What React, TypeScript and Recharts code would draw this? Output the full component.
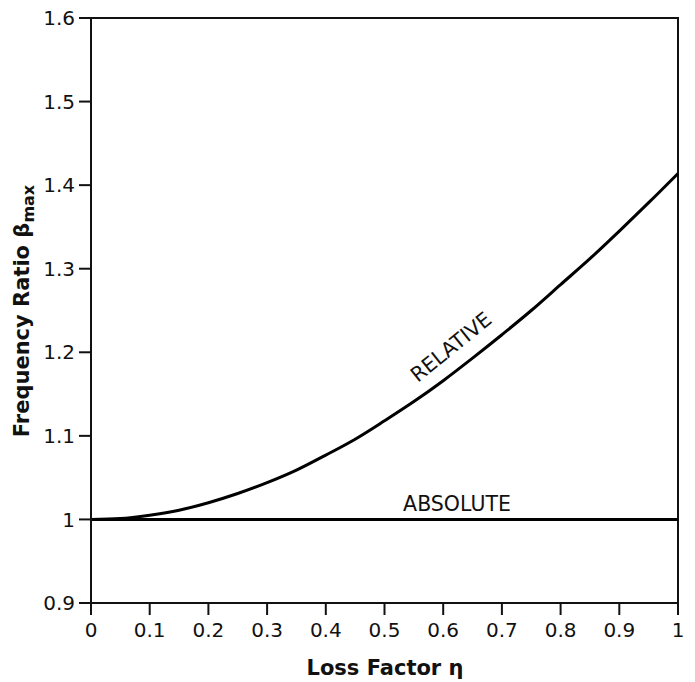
import { LineChart, Line, XAxis, YAxis, ReferenceArea, Customized } from 'recharts';

const lossFactor = [0, 0.05, 0.1, 0.15, 0.2, 0.25, 0.3, 0.35, 0.4, 0.45, 0.5, 0.55, 0.6, 0.65, 0.7, 0.75, 0.8, 0.85, 0.9, 0.95, 1];
const relative = [1.0, 1.001, 1.005, 1.011, 1.02, 1.031, 1.044, 1.059, 1.077, 1.096, 1.118, 1.141, 1.166, 1.193, 1.221, 1.25, 1.281, 1.312, 1.345, 1.379, 1.414];
const absolute = [1, 1, 1, 1, 1, 1, 1, 1, 1, 1, 1, 1, 1, 1, 1, 1, 1, 1, 1, 1, 1];

const xTicks = [0, 0.1, 0.2, 0.3, 0.4, 0.5, 0.6, 0.7, 0.8, 0.9, 1];
const yTicks = [0.9, 1.0, 1.1, 1.2, 1.3, 1.4, 1.5, 1.6];

const data = lossFactor.map((eta, i) => ({ eta, relative: relative[i], absolute: absolute[i] }));

const FONT = '"DejaVu Sans", Verdana, sans-serif';

function fmt(v: number) {
  return Number(v.toFixed(1)).toString();
}

function Annotations() {
  return (
    <g fontFamily={FONT} fill="#111">
      <text x={451} y={354} fontSize={20.5} textAnchor="middle" transform="rotate(-39 451 347)">
        RELATIVE
      </text>
      <text x={457} y={511} fontSize={20.5} textAnchor="middle">
        ABSOLUTE
      </text>
      <text x={385} y={675} fontSize={21} fontWeight="bold" textAnchor="middle">
        Loss Factor η
      </text>
      <text x={29} y={311} fontSize={21} fontWeight="bold" textAnchor="middle" transform="rotate(-90 29 311)">
        Frequency Ratio β<tspan fontSize={16} dy={5}>max</tspan>
      </text>
    </g>
  );
}

export default function App() {
  return (
    <div style={{ position: 'absolute', left: 0, top: 0, background: '#fff' }}>
      <LineChart width={695} height={682} data={data} margin={{ top: 18, right: 17, left: 0, bottom: 0 }}>
        <XAxis
          dataKey="eta"
          type="number"
          domain={[0, 1]}
          ticks={xTicks}
          tickFormatter={fmt}
          height={79}
          tickSize={12}
          tickMargin={8}
          stroke="#111"
          strokeWidth={2}
          tick={{ fill: '#111', fontSize: 20, fontFamily: FONT }}
          interval={0}
        />
        <YAxis
          type="number"
          domain={[0.9, 1.6]}
          ticks={yTicks}
          tickFormatter={fmt}
          width={91}
          tickSize={12}
          tickMargin={4}
          stroke="#111"
          strokeWidth={2}
          tick={{ fill: '#111', fontSize: 20, fontFamily: FONT }}
          interval={0}
          allowDataOverflow
        />
        <ReferenceArea x1={0} x2={1} y1={0.9} y2={1.6} fill="none" stroke="#111" strokeWidth={2} ifOverflow="visible" />
        <Line dataKey="relative" type="monotone" stroke="#000" strokeWidth={3} dot={false} isAnimationActive={false} />
        <Line dataKey="absolute" type="linear" stroke="#000" strokeWidth={3} dot={false} isAnimationActive={false} />
        <Customized component={Annotations} />
      </LineChart>
    </div>
  );
}
